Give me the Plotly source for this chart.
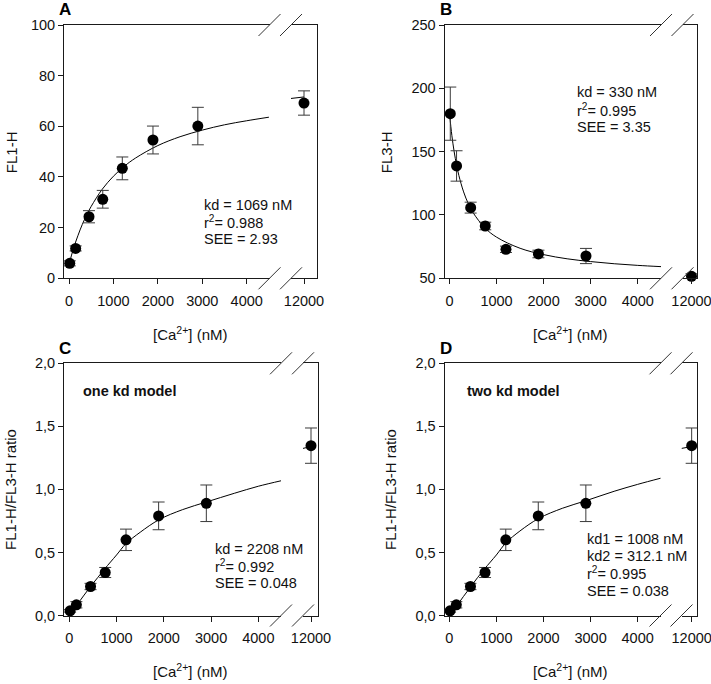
import plotly.graph_objects as go

# ---------------- data ----------------
ca_nM = [17, 150, 450, 760, 1200, 1890, 2900, 12000]

fl1_h = [5.9, 11.8, 24.3, 31.2, 43.4, 54.6, 60.1, 69.2]
fl1_err = [1.0, 1.0, 2.4, 3.5, 4.5, 5.5, 7.4, 4.8]

fl3_h = [180.0, 138.7, 105.8, 91.3, 72.9, 69.2, 67.6, 51.6]
fl3_err = [21.0, 12.0, 4.3, 3.0, 2.5, 3.0, 6.0, 2.0]

ratio = [0.037, 0.085, 0.23, 0.341, 0.60, 0.79, 0.89, 1.347]
ratio_err = [0.01, 0.025, 0.025, 0.04, 0.085, 0.11, 0.145, 0.14]

# fitted curves
fitA_x = [0, 100, 200, 300, 400, 500, 750, 1000, 1250, 1500, 2000, 2500, 3000, 3500, 4000, 4500]
fitA_y = [5.5, 11.7, 16.8, 21.3, 25.1, 28.4, 35.2, 40.3, 44.3, 47.5, 52.4, 55.9, 58.5, 60.6, 62.2, 63.6]
fitA_hi_x = [11071, 12000]
fitA_hi_y = [71.0, 71.6]

fitB_x = [0, 50, 100, 150, 200, 300, 400, 500, 750, 1000, 1500, 2000, 2500, 3000, 3500, 4000, 4500]
fitB_y = [180.0, 162.9, 149.8, 139.5, 131.1, 118.2, 108.9, 101.9, 89.9, 82.5, 73.7, 68.7, 65.4, 63.2, 61.5, 60.2, 59.2]

fitC_x = [0, 150, 300, 450, 600, 750, 1000, 1200, 1500, 1900, 2400, 2900, 3500, 4000, 4500]
fitC_y = [0.02, 0.08, 0.155, 0.23, 0.30, 0.37, 0.48, 0.57, 0.66, 0.76, 0.84, 0.90, 0.97, 1.025, 1.07]
fitC_hi_x = [11429, 12000]
fitC_hi_y = [1.325, 1.34]

fitD_x = [0, 150, 300, 450, 600, 750, 1000, 1200, 1500, 1900, 2400, 2900, 3500, 4000, 4500]
fitD_y = [0.02, 0.075, 0.15, 0.225, 0.30, 0.37, 0.48, 0.575, 0.67, 0.77, 0.85, 0.91, 0.985, 1.04, 1.09]
fitD_hi_x = [11250, 12000]
fitD_hi_y = [1.325, 1.34]

x_main_ticks = [0, 1000, 2000, 3000, 4000]
x_main_labels = ["0", "1000", "2000", "3000", "4000"]
x_hi_ticks = [12000]
x_hi_labels = ["12000"]

yA_ticks = [0, 20, 40, 60, 80, 100]
yA_labels = ["0", "20", "40", "60", "80", "100"]
yB_ticks = [50, 100, 150, 200, 250]
yB_labels = ["50", "100", "150", "200", "250"]
yR_ticks = [0, 0.5, 1.0, 1.5, 2.0]
yR_labels = ["0,0", "0,5", "1,0", "1,5", "2,0"]

textA = ["kd = 1069 nM", "r<sup>2</sup>= 0.988", "SEE = 2.93"]
textB = ["kd = 330 nM", "r<sup>2</sup>= 0.995", "SEE = 3.35"]
textC = ["kd = 2208 nM", "r<sup>2</sup>= 0.992", "SEE = 0.048"]
textD = ["kd1 = 1008 nM", "kd2 = 312.1 nM", "r<sup>2</sup>= 0.995", "SEE = 0.038"]

# ---------------- layout geometry (pixels) ----------------
W, H = 711, 684
FONT = "Liberation Sans, Arial, sans-serif"
LINE = "#1a1a1a"


def px(x):
    return x / W


def py(y):
    return 1 - y / H


panels = [
    dict(n=1, left=64, b1=269.5, b2=291, right=317, top=25, bottom=278.3,
         xr=[-112.5, 4513], xr2=[11071, 12929], yr=[0, 100],
         yt=yA_ticks, yl=yA_labels, letter="A", ytitle="FL1-H",
         y=fl1_h, e=fl1_err, fx=fitA_x, fy=fitA_y, hx=fitA_hi_x, hy=fitA_hi_y,
         text=textA, tx=202, ty0=205, ytx=11),
    dict(n=3, left=444.5, b1=661, b2=682.5, right=697, top=25, bottom=278.3,
         xr=[-106, 4494], xr2=[11379, 12379], yr=[50, 250],
         yt=yB_ticks, yl=yB_labels, letter="B", ytitle="FL3-H",
         y=fl3_h, e=fl3_err, fx=fitB_x, fy=fitB_y, hx=None, hy=None,
         text=textB, tx=575, ty0=92.3, ytx=386),
    dict(n=5, left=64, b1=281, b2=303, right=317.5, top=363.3, bottom=615.5,
         xr=[-112, 4480], xr2=[11429, 12464], yr=[0, 2.0],
         yt=yR_ticks, yl=yR_labels, letter="C", ytitle="FL1-H/FL3-H ratio",
         y=ratio, e=ratio_err, fx=fitC_x, fy=fitC_y, hx=fitC_hi_x, hy=fitC_hi_y,
         text=textC, tx=213, ty0=549, ytx=11, model="one kd model", mx=80.5),
    dict(n=7, left=444.5, b1=660.5, b2=681.5, right=697, top=363.3, bottom=615.5,
         xr=[-101, 4485], xr2=[11250, 12393], yr=[0, 2.0],
         yt=yR_ticks, yl=yR_labels, letter="D", ytitle="FL1-H/FL3-H ratio",
         y=ratio, e=ratio_err, fx=fitD_x, fy=fitD_y, hx=fitD_hi_x, hy=fitD_hi_y,
         text=textD, tx=585, ty0=539, ytx=391, model="two kd model", mx=465),
]

fig = go.Figure()
layout = {}
annotations = []
shapes = []

tickfont = dict(family=FONT, size=14.5, color="#111")
marker = dict(color="black", size=11)

for p in panels:
    n = p["n"]
    m = n + 1
    xa_main = "xaxis" if n == 1 else f"xaxis{n}"
    ya_main = "yaxis" if n == 1 else f"yaxis{n}"
    xr_main = "x" if n == 1 else f"x{n}"
    yr_main = "y" if n == 1 else f"y{n}"
    xr_hi, yr_hi = f"x{m}", f"y{m}"
    ydom = [py(p["bottom"]), py(p["top"])]

    common = dict(showgrid=False, zeroline=False, automargin=False,
                  showline=True, linecolor=LINE, linewidth=1)
    layout[xa_main] = dict(domain=[px(p["left"]), px(p["b1"])], range=p["xr"], anchor=yr_main,
                           mirror=True, ticks="outside", ticklen=5, tickcolor=LINE,
                           tickvals=x_main_ticks, ticktext=x_main_labels, tickfont=tickfont,
                           ticklabelstandoff=4, ticklabeloverflow="allow", **common)
    layout[f"xaxis{m}"] = dict(domain=[px(p["b2"]), px(p["right"])], range=p["xr2"], anchor=yr_hi,
                               mirror=True, ticks="outside", ticklen=5, tickcolor=LINE,
                               tickvals=x_hi_ticks, ticktext=x_hi_labels, tickfont=tickfont,
                               ticklabelstandoff=4, ticklabeloverflow="allow", **common)
    layout[ya_main] = dict(domain=ydom, range=p["yr"], anchor=xr_main, mirror=False,
                           ticks="outside", ticklen=5, tickcolor=LINE,
                           tickvals=p["yt"], ticktext=p["yl"], tickfont=tickfont, **common)
    layout[f"yaxis{m}"] = dict(domain=ydom, range=p["yr"], anchor=xr_hi, side="right",
                               ticks="", showticklabels=False, **common)

    nmain = len(ca_nM) - 1
    # fitted curve (main segment)
    fig.add_trace(go.Scatter(x=p["fx"], y=p["fy"], mode="lines", line=dict(color="black", width=1, shape="spline"),
                             xaxis=xr_main, yaxis=yr_main, hoverinfo="skip"))
    if p["hx"] is not None:
        fig.add_trace(go.Scatter(x=p["hx"], y=p["hy"], mode="lines", line=dict(color="black", width=1),
                                 xaxis=xr_hi, yaxis=yr_hi, hoverinfo="skip"))
    # data points
    fig.add_trace(go.Scatter(x=ca_nM[:nmain], y=p["y"][:nmain], mode="markers", marker=marker,
                             error_y=dict(type="data", array=p["e"][:nmain], color="#3a3a3a", thickness=1, width=6),
                             xaxis=xr_main, yaxis=yr_main, cliponaxis=False))
    fig.add_trace(go.Scatter(x=ca_nM[nmain:], y=p["y"][nmain:], mode="markers", marker=marker,
                             error_y=dict(type="data", array=p["e"][nmain:], color="#3a3a3a", thickness=1, width=6),
                             xaxis=xr_hi, yaxis=yr_hi, cliponaxis=False))

    # break marks
    for cx in (p["b1"], p["b2"]):
        for cy in (p["top"], p["bottom"]):
            shapes.append(dict(type="line", xref="paper", yref="paper",
                               x0=px(cx - 11), y0=py(cy + 11), x1=px(cx + 11), y1=py(cy - 11),
                               line=dict(color="#333", width=1)))

    # panel letter
    annotations.append(dict(text=f"<b>{p['letter']}</b>", x=px(p["left"] - 7), y=py(p["top"] - 15),
                            xref="paper", yref="paper", xanchor="left", yanchor="middle",
                            showarrow=False, font=dict(family=FONT, size=17, color="black")))
    # y title
    annotations.append(dict(text=p["ytitle"], x=px(p["ytx"]), y=py((p["top"] + p["bottom"]) / 2 + 0.5),
                            xref="paper", yref="paper", xanchor="center", yanchor="middle",
                            textangle=-90, showarrow=False, font=dict(family=FONT, size=15, color="#111")))
    # x title
    annotations.append(dict(text="[Ca<sup>2+</sup>] (nM)", x=px((p["left"] + p["right"]) / 2), y=py(p["bottom"] + 55),
                            xref="paper", yref="paper", xanchor="center", yanchor="middle",
                            showarrow=False, font=dict(family=FONT, size=15, color="#111")))
    # statistics text
    for i, t in enumerate(p["text"]):
        annotations.append(dict(text=t, x=px(p["tx"]), y=py(p["ty0"] + 17.2 * i),
                                xref="paper", yref="paper", xanchor="left", yanchor="middle",
                                showarrow=False, font=dict(family=FONT, size=14.5, color="#111")))
    if "model" in p:
        annotations.append(dict(text=f"<b>{p['model']}</b>", x=px(p["mx"]), y=py(p["top"] + 28),
                                xref="paper", yref="paper", xanchor="left", yanchor="middle",
                                showarrow=False, font=dict(family=FONT, size=14.5, color="#111")))

fig.update_layout(**layout)
fig.update_layout(template="none", width=W, height=H, margin=dict(l=0, r=0, t=0, b=0, autoexpand=False),
                  paper_bgcolor="white", plot_bgcolor="white", showlegend=False,
                  hovermode=False, annotations=annotations, shapes=shapes,
                  font=dict(family=FONT, size=14.5, color="#111"))

fig.write_html("out.html", config={"displayModeBar": False},
               post_script="document.body.style.margin='0px';document.body.style.overflow='hidden';")
